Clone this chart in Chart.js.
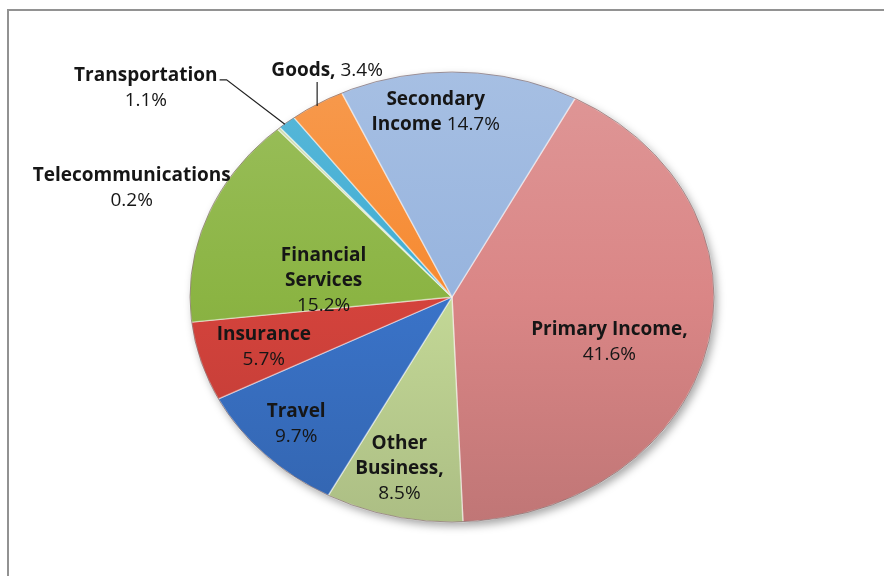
<!DOCTYPE html>
<html>
<head>
<meta charset="utf-8">
<script src="https://cdn.jsdelivr.net/npm/chart.js@4.4.0/dist/chart.umd.min.js"></script>
<style>
  html, body { margin: 0; padding: 0; background: #fff; overflow: hidden; }
  #wrap { position: relative; width: 884px; height: 576px; }
  #frame { position: absolute; left: 7px; top: 9px; width: 920px; height: 620px;
           border-top: 2px solid #929292; border-left: 2px solid #929292; pointer-events: none; }
</style>
</head>
<body>
<div id="wrap">
  <canvas id="pie"></canvas>
  <div id="frame"></div>
</div>
<script>
const categories = ['Primary Income', 'Other Business', 'Travel', 'Insurance', 'Financial Services',
                    'Telecommunications', 'Transportation', 'Goods', 'Secondary Income'];
const shares = [41.6, 8.5, 9.7, 5.7, 15.2, 0.2, 1.1, 3.4, 14.7];

// how each data label is broken into lines (category part is bold)
const labelLines = [['Primary Income,'], ['Other', 'Business,'], ['Travel'], ['Insurance'],
                    ['Financial', 'Services'], ['Telecommunications'], ['Transportation'],
                    ['Goods,'], ['Secondary', 'Income']];
const pctOnSameLine = [false, false, false, false, false, false, false, true, true];

const colors = ['#DA8686', '#C3D896', '#3A73C8', '#D4433C', '#8BB443',
                '#C9D9AA', '#3FADD3', '#F68A31', '#97B4DE'];

// label anchor = fraction of radius along slice middle, then a small nudge
const labelPos = [
  { f: 0.62, dx: -1, dy: 14 },
  { f: 0.78, dx: -7, dy: 1 },
  { f: 0.80, dx: -6, dy: 1 },
  { f: 0.75, dx: 0, dy: 2 },
  { f: 0.50, dx: -6, dy: 24 },
  { f: 1.00, dx: -147, dy: 60 },
  { f: 1.00, dx: -141, dy: -34, leader: 'elbow' },
  { f: 1.00, dx: 10, dy: -34, leader: 'vertical' },
  { f: 0.80, dx: -22, dy: -5 }
];

const squash = 225 / 262;
const FONT = '"Open Sans", Lato, sans-serif';
const FONT_SIZE = 19;

function shade(hex, amt) {
  const n = parseInt(hex.slice(1), 16);
  const ch = [(n >> 16) & 255, (n >> 8) & 255, n & 255].map(v => {
    const t = amt > 0 ? v + (255 - v) * amt : v * (1 + amt);
    return Math.round(Math.max(0, Math.min(255, t)));
  });
  return `rgb(${ch[0]},${ch[1]},${ch[2]})`;
}

const gradCache = {};
function sliceFill(ctx) {
  const chart = ctx.chart;
  const area = chart.chartArea;
  const base = colors[ctx.dataIndex];
  if (!area) return base;
  const cy = (area.top + area.bottom) / 2;
  const key = ctx.dataIndex + ':' + cy;
  if (!gradCache[key]) {
    const g = chart.ctx.createLinearGradient(0, cy - 262, 0, cy + 262);
    g.addColorStop(0, shade(base, 0.14));
    g.addColorStop(0.5, base);
    g.addColorStop(1, shade(base, -0.12));
    gradCache[key] = g;
  }
  return gradCache[key];
}

const ellipsePlugin = {
  id: 'ellipse',
  beforeDatasetsDraw(chart) {
    const arc = chart.getDatasetMeta(0).data[0];
    const { x, y, outerRadius } = arc;
    const c = chart.ctx;
    c.save();
    c.translate(x, y); c.scale(1, squash); c.translate(-x, -y);
    c.save();
    c.shadowColor = 'rgba(0,0,0,0.35)';
    c.shadowBlur = 9; c.shadowOffsetX = 3; c.shadowOffsetY = 4;
    c.beginPath(); c.arc(x, y, outerRadius, 0, Math.PI * 2);
    c.fillStyle = '#fff'; c.fill();
    c.restore();
  },
  afterDatasetsDraw(chart) {
    const arc = chart.getDatasetMeta(0).data[0];
    const { x, y, outerRadius } = arc;
    const c = chart.ctx;
    c.beginPath(); c.arc(x, y, outerRadius, 0, Math.PI * 2);
    c.lineWidth = 1; c.strokeStyle = 'rgba(90,60,60,0.55)'; c.stroke();
    c.restore();
  }
};

const labelPlugin = {
  id: 'sliceLabels',
  afterDraw(chart) {
    const c = chart.ctx;
    const lh = 25;
    chart.getDatasetMeta(0).data.forEach((arc, i) => {
      const { x, y, startAngle, endAngle, outerRadius } =
        arc.getProps(['x', 'y', 'startAngle', 'endAngle', 'outerRadius'], true);
      const mid = (startAngle + endAngle) / 2;
      const p = labelPos[i];
      const ex = x + p.f * outerRadius * Math.cos(mid);
      const ey = y + p.f * outerRadius * squash * Math.sin(mid);
      const lx = ex + p.dx, ly = ey + p.dy;

      const pct = shares[i].toFixed(1) + '%';
      const lines = labelLines[i].map(t => [{ t, bold: true }]);
      if (pctOnSameLine[i]) lines[lines.length - 1].push({ t: ' ' + pct, bold: false });
      else lines.push([{ t: pct, bold: false }]);

      c.save();
      c.textBaseline = 'middle';
      c.textAlign = 'left';
      c.fillStyle = '#161616';
      const y0 = ly - (lines.length - 1) * lh / 2;
      let firstRight = 0;
      lines.forEach((segs, li) => {
        const widths = segs.map(s => {
          c.font = (s.bold ? 'bold ' : '') + FONT_SIZE + 'px ' + FONT;
          return c.measureText(s.t).width;
        });
        const total = widths.reduce((a, b) => a + b, 0);
        let cx = lx - total / 2;
        if (li === 0) firstRight = lx + total / 2;
        segs.forEach((s, si) => {
          c.font = (s.bold ? 'bold ' : '') + FONT_SIZE + 'px ' + FONT;
          c.fillText(s.t, cx, y0 + li * lh);
          cx += widths[si];
        });
      });

      if (p.leader) {
        c.strokeStyle = '#222';
        c.lineWidth = 1.2;
        c.beginPath();
        if (p.leader === 'elbow') {
          const hy = y0 + 4;
          c.moveTo(firstRight + 2, hy);
          c.lineTo(firstRight + 9, hy);
          c.lineTo(ex - 2, ey + 2);
        } else {
          c.moveTo(ex, ey + 2);
          c.lineTo(ex, y0 + 12);
        }
        c.stroke();
      }
      c.restore();
    });
  }
};

new Chart(document.getElementById('pie'), {
  type: 'pie',
  data: {
    labels: categories,
    datasets: [{
      data: shares,
      backgroundColor: sliceFill,
      borderColor: 'rgba(255,255,255,0.45)',
      borderWidth: 1.5
    }]
  },
  options: {
    responsive: true,
    maintainAspectRatio: false,
    animation: false,
    rotation: 28,
    radius: 262,
    layout: { padding: { left: 20, right: 0, top: 18, bottom: 0 } },
    events: [],
    plugins: {
      legend: { display: false },
      tooltip: { enabled: false },
      title: { display: false }
    }
  },
  plugins: [ellipsePlugin, labelPlugin]
});
</script>
</body>
</html>
